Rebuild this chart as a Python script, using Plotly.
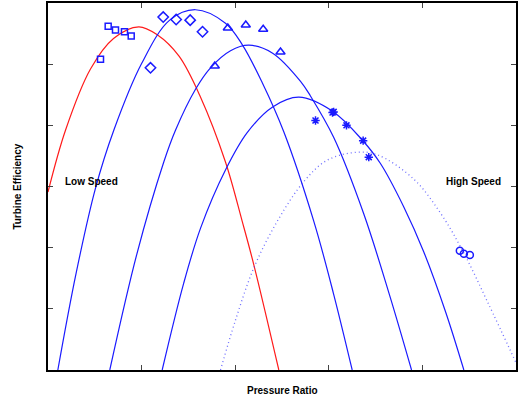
import plotly.graph_objects as go

# Fitted efficiency characteristics, one per shaft speed (x: pressure ratio, y: efficiency)
red_x = [0, 0.187, 0.454, 0.70, 0.97, 1.167, 1.40, 1.63, 1.896, 2.075, 2.199, 2.466]
red_y = [2.91, 3.92, 4.92, 5.42, 5.61, 5.48, 5.13, 4.46, 3.40, 2.43, 1.72, 0]

blue1_x = [0.105, 0.30, 0.507, 0.703, 1.0, 1.30, 1.576, 1.896, 2.075, 2.288, 2.52, 2.84, 3.05, 3.25]
blue1_y = [0, 1.58, 2.97, 3.92, 5.01, 5.72, 5.89, 5.67, 5.32, 4.70, 3.89, 2.43, 1.25, 0]

blue2_x = [0.66, 0.95, 1.237, 1.362, 1.576, 1.736, 1.95, 2.146, 2.40, 2.698, 2.804, 3.053, 3.374, 3.65, 3.884]
blue2_y = [0, 1.9, 3.40, 3.92, 4.59, 4.94, 5.22, 5.31, 5.18, 4.72, 4.48, 3.80, 2.55, 1.22, 0]

blue3_x = [1.22, 1.45, 1.63, 1.896, 2.128, 2.40, 2.68, 3.05, 3.357, 3.55, 3.80, 4.015, 4.25, 4.443]
blue3_y = [0, 1.42, 2.32, 3.27, 3.88, 4.30, 4.46, 4.22, 3.76, 3.38, 2.67, 1.93, 0.94, 0]

high_x = [1.843, 2.0, 2.199, 2.449, 2.733, 2.983, 3.303, 3.517, 3.908, 4.20, 4.44, 4.70, 5.0]
high_y = [0, 0.80, 1.67, 2.43, 3.08, 3.43, 3.56, 3.52, 3.12, 2.55, 1.92, 1.10, 0.12]

# Measured points
sq_x = [0.561, 0.643, 0.721, 0.817, 0.889]
sq_y = [5.08, 5.62, 5.56, 5.53, 5.46]

dia_x = [1.095, 1.231, 1.369, 1.519, 1.651]
dia_y = [4.94, 5.77, 5.73, 5.72, 5.53]

tri_x = [1.782, 1.921, 2.113, 2.299, 2.484]
tri_y = [4.97, 5.59, 5.64, 5.57, 5.20]

star_x = [2.858, 3.040, 3.052, 3.189, 3.367, 3.427]
star_y = [4.08, 4.21, 4.22, 4.00, 3.75, 3.48]

circ_x = [4.400, 4.443, 4.507]
circ_y = [1.95, 1.90, 1.88]

BLUE = "#1a1aff"
FONT = "Liberation Sans, Arial, sans-serif"

fig = go.Figure()

def curve(x, y, color, dash="solid", width=1.2):
    fig.add_trace(go.Scatter(x=x, y=y, mode="lines", line=dict(color=color, width=width, dash=dash, shape="spline", smoothing=1.0),
                             hoverinfo="skip", showlegend=False))

curve(red_x, red_y, "#ff1a1a")
curve(blue1_x, blue1_y, BLUE)
curve(blue2_x, blue2_y, BLUE)
curve(blue3_x, blue3_y, BLUE)
curve(high_x, high_y, "rgba(60,60,255,0.75)", dash="1px,3px", width=1.3)

def points(x, y, symbol, size):
    fig.add_trace(go.Scatter(x=x, y=y, mode="markers",
                             marker=dict(symbol=symbol, size=size, color=BLUE, line=dict(color=BLUE, width=1.5)),
                             showlegend=False, cliponaxis=False))

points(sq_x, sq_y, "square-open", 6)
points(dia_x, dia_y, "diamond-open", 8)
points(tri_x, tri_y, "triangle-up-open", 8)
points(star_x, star_y, "asterisk-open", 7)
points(circ_x, circ_y, "circle-open", 7)

fig.add_annotation(x=0.465, y=3.09, text="<b>Low Speed</b>", showarrow=False,
                   font=dict(family=FONT, size=10, color="black"))
fig.add_annotation(x=4.546, y=3.09, text="<b>High Speed</b>", showarrow=False,
                   font=dict(family=FONT, size=10, color="black"))
fig.add_annotation(xref="paper", yref="paper", x=0.5, y=-0.056, text="<b>Pressure Ratio</b>", showarrow=False,
                   font=dict(family=FONT, size=10, color="black"), yanchor="middle")
fig.add_annotation(xref="paper", yref="paper", x=-0.066, y=0.5, text="<b>Turbine Efficiency</b>", showarrow=False,
                   textangle=-90, font=dict(family=FONT, size=10, color="black"), xanchor="center")

axis_common = dict(showgrid=False, zeroline=False, showline=True, linecolor="black", linewidth=2,
                   mirror="ticks", ticks="inside", ticklen=5, tickwidth=1, tickcolor="#444",
                   showticklabels=False)
fig.update_xaxes(range=[0, 5], tickvals=[1, 2, 3, 4], **axis_common)
fig.update_yaxes(range=[0, 6], tickvals=[1, 2, 3, 4, 5], **axis_common)

fig.update_layout(width=526, height=400, margin=dict(l=48, r=10, t=1, b=30),
                  paper_bgcolor="white", plot_bgcolor="white", font=dict(family=FONT))

fig.write_html("out.html")
